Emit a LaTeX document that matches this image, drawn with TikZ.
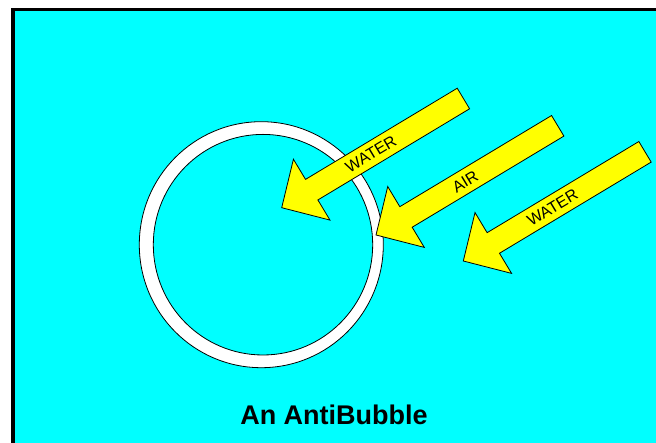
\documentclass[tikz,border=0pt]{standalone}
\usepackage{fontspec}
\setsansfont{Liberation Sans}
\usepackage{tikz}
\usetikzlibrary{arrows.meta,calc}

\definecolor{seacyan}{RGB}{0,255,255}
\definecolor{flowyellow}{RGB}{255,255,0}

\begin{document}
\begin{tikzpicture}[x=1pt,y=1pt,
    frame/.style={
        draw=black,
        fill=seacyan,
        line width=3.5pt
    },
    ringwall/.style={
        draw=black,
        fill=white,
        line width=0.8pt
    },
    ringcore/.style={
        draw=black,
        fill=seacyan,
        line width=0.8pt
    },
    flowarrow/.style={
        draw=black,
        fill=flowyellow,
        line width=0.8pt,
        line join=miter
    },
    flowlabel/.style={
        font=\sffamily\fontsize{16}{18}\selectfont,
        inner sep=0pt
    },
    titlelabel/.style={
        font=\sffamily\bfseries\fontsize{27}{30}\selectfont,
        inner sep=0pt
    }
]

\path[use as bounding box] (0,0) rectangle (656,443);

% tank of water
\draw[frame] (12.75,433.25) rectangle (700,-40);

% the antibubble: a shell of air round a ball of water
\draw[ringwall] (261.3,198.3) ellipse [x radius=122, y radius=123];
\draw[ringcore] (263,198.3) ellipse [x radius=109.7, y radius=110.3];

% three flows, tip given, tail up to the right
\foreach \tipx/\tipy/\lbl/\name in {
    281.7/235.3/WATER/inner,
    376/208/AIR/shell,
    463.3/182/WATER/outer
}{
    \begin{scope}[shift={(\tipx,\tipy)}, rotate=31]
        \draw[flowarrow]
        (0,0) -- (35,35.5) -- (35,12) -- (212,12)
        -- (212,-12) -- (35,-12) -- (35,-35.5) -- cycle;
        \node[flowlabel, rotate=31] (\name) at (104,0) {\lbl};
    \end{scope}
}

\node[titlelabel, anchor=base] (title) at (334,18) {An AntiBubble};
\end{tikzpicture}
\end{document}
